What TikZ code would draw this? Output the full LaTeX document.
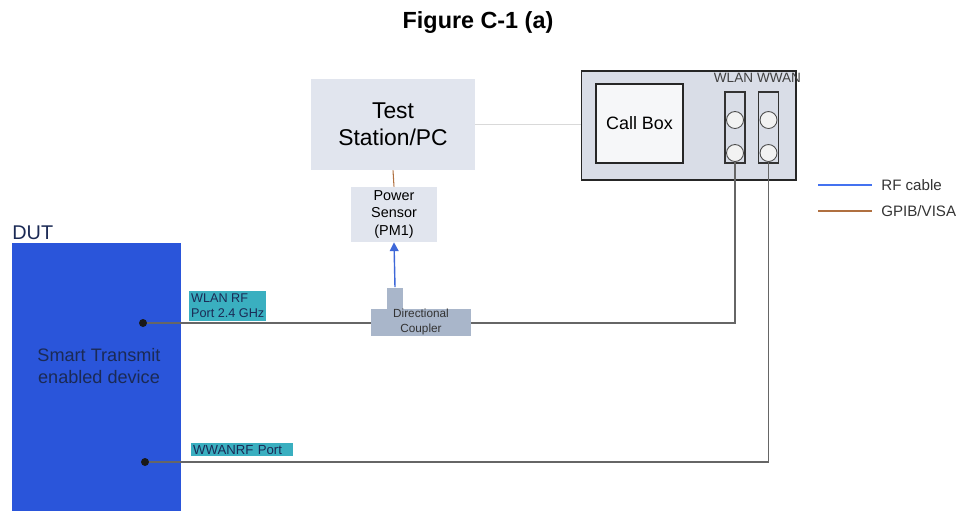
\documentclass[tikz,border=0pt]{standalone}
\usepackage{fontspec}
\setmainfont{Liberation Sans}
\usetikzlibrary{arrows.meta,positioning}
\definecolor{panelgray}{HTML}{E1E5EE}
\definecolor{boxgray}{HTML}{D9DDE7}
\definecolor{screen}{HTML}{F6F7F9}
\definecolor{couplergray}{HTML}{A9B6CA}
\definecolor{dutblue}{HTML}{2A55DA}
\definecolor{navytext}{HTML}{1B2A55}
\definecolor{tealtag}{HTML}{3AAFC0}
\definecolor{rfgray}{HTML}{666666}
\definecolor{rfblue}{HTML}{4472F0}
\definecolor{gpibbrown}{HTML}{B07040}
\tikzset{
    FS/.style={font={\pgfmathsetmacro\fsline{#1*1.2}\fontsize{#1}{\fsline}\selectfont}},
    BX/.style={rectangle, inner sep=0pt, align=center},
    TAG/.style={rectangle, fill=tealtag, text=navytext, align=left, inner xsep=1pt, inner ysep=1.5pt},
    DOT/.style={circle, fill=black!90, inner sep=0pt, minimum size=0.16cm},
    JACK/.style={circle, draw=black!70, fill=white!95!black, inner sep=0pt, minimum size=0.34cm, line width=0.5pt},
    STRIP/.style={rectangle, draw=black!80, fill=boxgray, inner sep=0pt, minimum width=0.4cm, minimum height=1.42cm, line width=0.6pt},
    RF/.style={draw=rfgray, line width=1pt},
    CTRL/.style={draw=black!15, line width=0.6pt}}

\begin{document}
\begin{tikzpicture}[x=0.02cm, y=-0.02cm]
    \useasboundingbox (0,0) rectangle (963,511);
    \node[FS=13.3] (title) at (478,23) {\bfseries Figure C-1 (a)};

    % test station and power sensor
    \node[BX, fill=panelgray, minimum width=3.28cm, minimum height=1.82cm, FS=13] (pc) at (393,124.5) {Test\\Station/PC};
    \node[BX, fill=panelgray, minimum width=1.72cm, minimum height=1.1cm, FS=8.2] (pm) at (394,214.5) {Power\\Sensor\\(PM1)};

    % call box with the two port strips
    \node[BX, draw=black!85, fill=boxgray, minimum width=4.3cm, minimum height=2.18cm, line width=0.6pt] (callbox) at (688.5,125.5) {};
    \node[BX, draw=black!85, fill=screen, minimum width=1.74cm, minimum height=1.58cm, FS=10.2, line width=0.6pt] (screen) at (639.5,123.5) {Call Box};
    \node[STRIP] (wlanstrip) at (735,127.5) {};
    \node[STRIP] (wwanstrip) at (768.5,127.5) {};
    \node[JACK] (wlanA) at (735,120) {};
    \node[JACK] (wlanB) at (735,153) {};
    \node[JACK] (wwanA) at (768.5,120) {};
    \node[JACK] (wwanB) at (768.5,153) {};
    \node[FS=7.7, text=black!75] (wlanlbl) at (733.5,77.5) {WLAN};
    \node[FS=7.7, text=black!75] (wwanlbl) at (779,77.5) {WWAN};

    % directional coupler
    \node[BX, fill=couplergray, minimum width=0.32cm, minimum height=0.46cm] (cplstub) at (395,299) {};
    \node[BX, fill=couplergray, minimum width=2cm, minimum height=0.54cm, FS=6.7, text=black!80] (cpl) at (421,322) {Directional\\Coupler};

    % device under test
    \node[BX, fill=dutblue, minimum width=3.38cm, minimum height=5.36cm] (dut) at (96.5,377) {};
    \node[FS=11.3, text=navytext, anchor=base west, inner sep=0pt] (dutlbl) at (12,239) {DUT};
    \node[FS=10.3, text=navytext, align=center] (dutname) at (99,366) {Smart Transmit\\enabled device};
    \node[DOT] (wlanpt) at (143,323) {};
    \node[DOT] (wwanpt) at (145,462) {};
    \node[TAG, FS=7.2, anchor=north west] (wlantag) at (189,291) {WLAN RF\\Port 2.4 GHz};
    \node[TAG, FS=7.5, anchor=north west, text width=1.96cm, minimum height=0.26cm, inner ysep=0pt] (wwantag) at (191,443) {WWANRF Port};

    % cables
    \draw[CTRL] (pc.east) -- (callbox.west |- pc.east);
    \draw[draw=gpibbrown, line width=0.6pt] (pc.south) -- (pm.north);
    \draw[draw=rfblue!90!black, line width=0.8pt, -{Triangle[length=5pt,width=5pt]}] (cplstub.north) -- (pm.south);
    \draw[RF] (wlanpt) -- (cpl.west |- wlanpt);
    \draw[RF] (cpl.east |- wlanpt) -| (wlanB.south);
    \draw[RF] (wwanpt) -| (wwanB.south);

    % legend
    \node[FS=8.6, text=black!80, anchor=west, inner xsep=0pt] (rfkey) at (881,185) {RF cable};
    \node[FS=8.6, text=black!80, anchor=west, inner xsep=0pt] (gpibkey) at (881,211) {GPIB/VISA};
    \coordinate (rfstart) at (818,185);
    \coordinate (gpibstart) at (818,211);
    \draw[draw=rfblue, line width=0.6pt] (rfstart) -- ([xshift=-0.18cm]rfkey.west);
    \draw[draw=gpibbrown, line width=0.6pt] (gpibstart) -- ([xshift=-0.18cm]gpibkey.west);
\end{tikzpicture}
\end{document}
